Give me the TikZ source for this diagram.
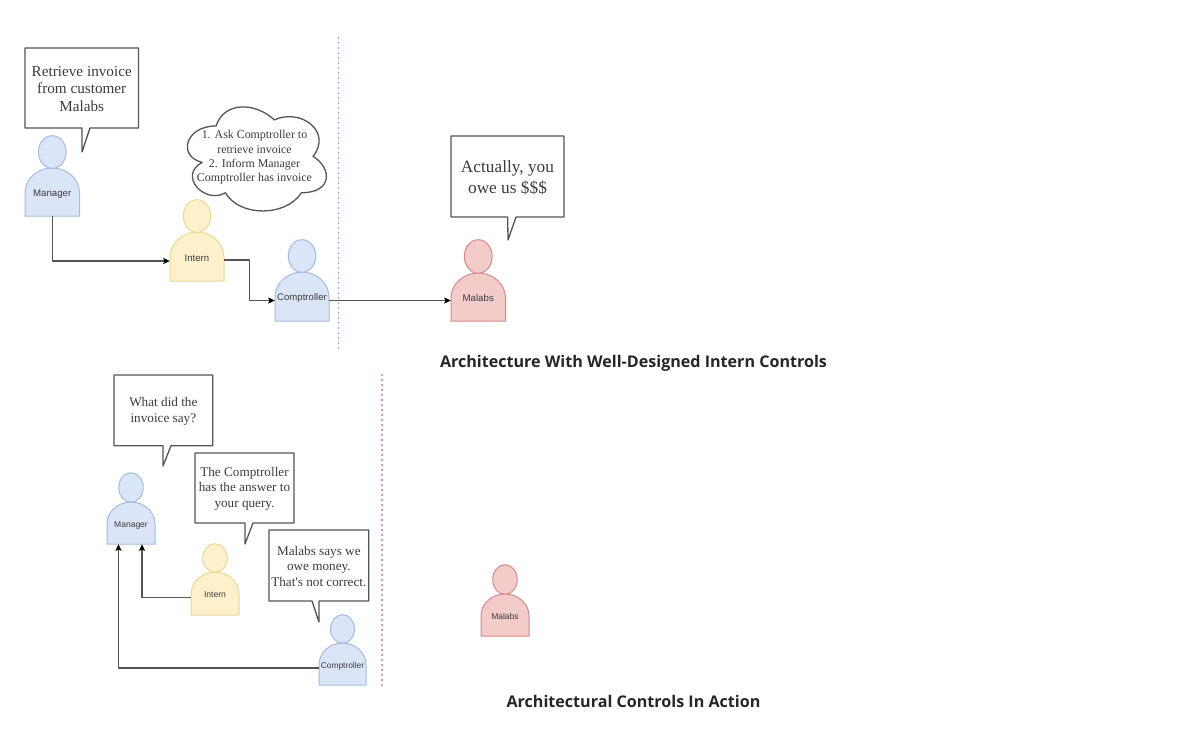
\documentclass[tikz,border=0pt]{standalone}
\usepackage{fontspec}
\setmainfont{Liberation Serif}
\newfontfamily\plainserif{Liberation Serif}
\newfontfamily\labelsans{Liberation Sans}
\newfontfamily\titlesans{Open Sans}
\usetikzlibrary{arrows.meta}
\definecolor{linegrey}{HTML}{555555}
\definecolor{textgrey}{HTML}{3C3C3C}
\tikzset{
  actorblue/.style={draw={rgb,255:red,165;green,186;blue,222},fill={rgb,255:red,218;green,230;blue,248},line width=1pt},
  actoryellow/.style={draw={rgb,255:red,234;green,216;blue,150},fill={rgb,255:red,253;green,241;blue,203},line width=1pt},
  actorred/.style={draw={rgb,255:red,214;green,138;blue,136},fill={rgb,255:red,243;green,204;blue,202},line width=1pt},
  actorlabel/.style={inner sep=0pt,text=textgrey},
  balloon/.style={draw=linegrey,fill=white,line width=1.3pt,line join=round},
  balloontext/.style={inner sep=0pt,align=center,text=textgrey},
  flow/.style={draw=linegrey,line width=1.2pt,line join=round,-{Stealth[length=6.5pt,width=6pt,inset=1pt,color=black]}},
  divider/.style={draw={rgb,255:red,230;green,150;blue,170},line width=1.6pt,dash pattern=on 1.6pt off 3.4pt},
  caption/.style={inner sep=0pt,text=black!85,font=\titlesans\bfseries\fontsize{16.1}{20}\selectfont}
}
% name, left, right, head top, body top, bottom, label y, style, label
\newcommand{\personfig}[9]{%
  \pgfmathsetmacro{\pcx}{(#2+#3)/2}%
  \pgfmathsetmacro{\prx}{(#3-#2)/2}%
  \pgfmathsetmacro{\pfs}{(#3-#2)/54*9.6}%
  \pgfmathsetmacro{\psh}{#5+(#6-#5)*0.52}%
  \pgfmathsetmacro{\pcy}{#5+(#6-#5)*0.52*0.45}%
  \pgfmathsetmacro{\pka}{\pcx-\prx*0.55}%
  \pgfmathsetmacro{\pkb}{\pcx+\prx*0.55}%
  \pgfmathsetmacro{\phry}{(#5-#4)/2+0.3}%
  \pgfmathsetmacro{\phrx}{\prx*0.51}%
  \pgfmathsetmacro{\phy}{(#4+#5)/2}%
  \pgfmathsetmacro{\pnw}{#3-#2}%
  \pgfmathsetmacro{\pnh}{2*(#6-#7)}%
  \path[#8] (#2,#6) -- (#2,\psh) .. controls (#2,\pcy) and (\pka,#5) .. (\pcx,#5)
     .. controls (\pkb,#5) and (#3,\pcy) .. (#3,\psh) -- (#3,#6) -- cycle;
  \path[#8] (\pcx,\phy) ellipse [x radius=\phrx pt,y radius=\phry pt];
  \node[actorlabel,minimum width=\pnw pt,minimum height=\pnh pt,font=\labelsans\fontsize{\pfs}{\pfs}\selectfont] (#1) at (\pcx,#7) {#9};
}
% name, left, top, right, bottom, tail left, tail right, tip x, tip y
\newcommand{\bubble}[9]{%
  \path[balloon] (#2,#3) -- (#4,#3) -- (#4,#5) -- (#7,#5) -- (#8,#9) -- (#6,#5) -- (#2,#5) -- cycle;
  \pgfmathsetmacro{\bcx}{(#2+#4)/2}%
  \pgfmathsetmacro{\bcy}{(#3+#5)/2+0.8}%
  \coordinate (#1) at (\bcx,\bcy);
}
\begin{document}
\begin{tikzpicture}[x=1pt,y=-1pt]
\useasboundingbox[fill=white] (0,0) rectangle (1200,742);

% dividers
\coordinate (divAtop) at (338.5,37);
\coordinate (divAbot) at (338.5,351);
\coordinate (divBtop) at (382,374);
\coordinate (divBbot) at (382,686);
\draw[divider] (divAtop) -- (divAbot);
\draw[divider] (divBtop) -- (divBbot);

% upper actors
\personfig{mgrA}{25}{79.5}{136}{168}{216}{194}{actorblue}{Manager}
\personfig{intA}{170}{224}{200}{232}{281}{258.5}{actoryellow}{Intern}
\personfig{cmpA}{275}{329}{240}{272}{321}{298.5}{actorblue}{Comptroller}
\personfig{malA}{451}{505.5}{240}{273}{321}{298.5}{actorred}{Malabs}

% upper connectors
\draw[flow] (mgrA.south) |- ([yshift=-2.5pt]intA.west);
\draw[flow] ([yshift=-1.5pt]intA.east) -- ++(25.5,0) |- ([yshift=-2pt]cmpA.west);
\draw[flow] ([yshift=-2pt]cmpA.east) -- ([yshift=-2pt]malA.west);

% upper balloons
\bubble{txtA}{25}{48}{138.5}{128}{82}{90}{82}{152}
\node[balloontext,font=\fontsize{15.2}{17.4}\selectfont] (retrieve) at (txtA) {Retrieve invoice\\from customer\\Malabs};
\bubble{txtB}{451}{136}{564}{217}{507.7}{516}{508}{240}
\node[balloontext,font=\fontsize{17.3}{21}\selectfont] (actually) at (txtB) {Actually, you\\owe us \$\$\$};

% cloud
\begin{scope}[shift={(177.3,95.6)},xscale=1.293,yscale=1.518]
\path[balloon] (30,20) .. controls (6,20) and (0,40) .. (19.2,44)
  .. controls (0,52.8) and (21.6,72) .. (37.2,64)
  .. controls (48,80) and (84,80) .. (96,64)
  .. controls (120,64) and (120,48) .. (105,40)
  .. controls (120,24) and (96,8) .. (75,16)
  .. controls (60,4) and (36,4) .. (30,20) -- cycle;
\end{scope}
\node[balloontext,font=\fontsize{11.9}{14.4}\selectfont] (plan) at (254.5,157.5) {1. Ask Comptroller to\\retrieve invoice\\2. Inform Manager\\Comptroller has invoice};

\node[caption] (titleA) at (633.5,363.5) {Architecture With Well-Designed Intern Controls};

% lower actors
\personfig{mgrB}{107}{155}{473}{502}{544}{525}{actorblue}{Manager}
\personfig{intB}{191}{239}{544}{572}{615}{594.5}{actoryellow}{Intern}
\personfig{cmpB}{319}{366}{615}{643}{685}{666}{actorblue}{Comptroller}
\personfig{malB}{481}{529}{565}{594}{636}{616.5}{actorred}{Malabs}

% lower connectors
\draw[flow] ([yshift=-3pt]intB.west) -| ([xshift=11pt]mgrB.south);
\draw[flow] ([yshift=-2pt]cmpB.west) -| ([xshift=-12.5pt]mgrB.south);

% lower balloons
\bubble{txtC}{114}{375}{212.7}{445.7}{163}{171}{163}{466}
\node[balloontext,font=\fontsize{13.2}{15.5}\selectfont] (what) at (txtC) {What did the\\invoice say?};
\bubble{txtD}{195}{453}{294}{523}{245}{253}{245}{544}
\node[balloontext,font=\fontsize{13.2}{15.6}\selectfont] (answer) at (txtD) {The Comptroller\\has the answer to\\your query.};
\bubble{txtE}{269}{530}{368.7}{601}{312}{319}{319}{622}
\node[balloontext,font=\fontsize{13.2}{15.3}\selectfont] (owe) at (txtE) {Malabs says we\\owe money.\\That{\plainserif '}s not correct.};

\node[caption] (titleB) at (633.5,701.5) {Architectural Controls In Action};
\end{tikzpicture}
\end{document}
